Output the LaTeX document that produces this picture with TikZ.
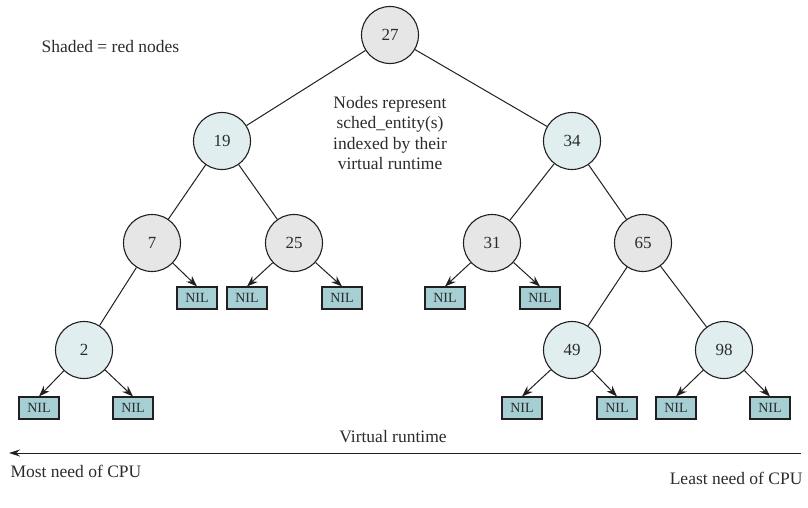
\documentclass[tikz,border=0pt]{standalone}
\usepackage{fontspec}
\setmainfont{Liberation Serif}
\usetikzlibrary{arrows.meta, positioning}
\definecolor{redshade}{HTML}{E6E6E6}
\definecolor{blackshade}{HTML}{E1EEF0}
\definecolor{nilcol}{HTML}{A5CFD3}
\definecolor{inkcol}{HTML}{231F20}
\definecolor{textcol}{HTML}{2B2B2B}

\begin{document}
\begin{tikzpicture}[x=1pt, y=-1pt,
  treenode/.style={circle, draw=inkcol, line width=1.1pt, minimum size=57pt,
                   inner sep=0pt, text=textcol, font=\fontsize{17}{19}\selectfont},
  rednode/.style={treenode, fill=redshade},
  blacknode/.style={treenode, fill=blackshade},
  nilbox/.style={rectangle, draw=inkcol, line width=1.1pt, fill=nilcol,
                 minimum width=40pt, minimum height=22pt, inner sep=0pt,
                 text=textcol, font=\fontsize{14}{16}\selectfont},
  link/.style={draw=inkcol, line width=1pt},
  nilarrow/.style={link, -{Stealth[length=11pt, width=8pt]}},
  notetext/.style={text=textcol, font=\fontsize{17.5}{20.5}\selectfont},
]
  \useasboundingbox (0,0) rectangle (808,508);

  % tree nodes
  \node[rednode]   (n27) at (390,35)  {27};
  \node[blacknode] (n19) at (222,141) {19};
  \node[blacknode] (n34) at (572,141) {34};
  \node[rednode]   (n7)  at (152,243) {7};
  \node[rednode]   (n25) at (294,243) {25};
  \node[rednode]   (n31) at (492,243) {31};
  \node[rednode]   (n65) at (643,243) {65};
  \node[blacknode] (n2)  at (84,350)  {2};
  \node[blacknode] (n49) at (572,350) {49};
  \node[blacknode] (n98) at (724,350) {98};

  % leaves
  \node[nilbox] (nil7r)  at (197,298) {NIL};
  \node[nilbox] (nil25l) at (247,298) {NIL};
  \node[nilbox] (nil25r) at (342,298) {NIL};
  \node[nilbox] (nil31l) at (445,298) {NIL};
  \node[nilbox] (nil31r) at (540,298) {NIL};
  \node[nilbox] (nil2l)  at (39,408)  {NIL};
  \node[nilbox] (nil2r)  at (133,408) {NIL};
  \node[nilbox] (nil49l) at (522,408) {NIL};
  \node[nilbox] (nil49r) at (617,408) {NIL};
  \node[nilbox] (nil98l) at (676,408) {NIL};
  \node[nilbox] (nil98r) at (770,408) {NIL};

  \foreach \from/\to in {n27/n19, n27/n34, n19/n7, n19/n25, n34/n31,
                         n34/n65, n7/n2, n65/n49, n65/n98} {
    \draw[link] (\from) -- (\to);
  }
  \foreach \from/\to in {n7/nil7r, n25/nil25l, n25/nil25r, n31/nil31l,
                         n31/nil31r, n2/nil2l, n2/nil2r, n49/nil49l,
                         n49/nil49r, n98/nil98l, n98/nil98r} {
    \draw[nilarrow] (\from) -- (\to.north);
  }

  % captions
  \node[notetext, anchor=west] (legend) at (38,47) {Shaded = red nodes};
  \node[notetext, align=center] (note) at (390,133)
    {Nodes represent\\sched\_entity(s)\\indexed by their\\virtual runtime};

  % runtime axis
  \coordinate (axisR) at (801,453);
  \coordinate (axisL) at (9,453);
  \draw[link, -{Stealth[length=11pt, width=7pt]}] (axisR) -- (axisL);
  \node[notetext] (vrt) at (393,437) {Virtual runtime};
  \node[notetext, anchor=west] (most) at (7,471) {Most need of CPU};
  \node[notetext, anchor=east] (least) at (806,478) {Least need of CPU};
\end{tikzpicture}
\end{document}
